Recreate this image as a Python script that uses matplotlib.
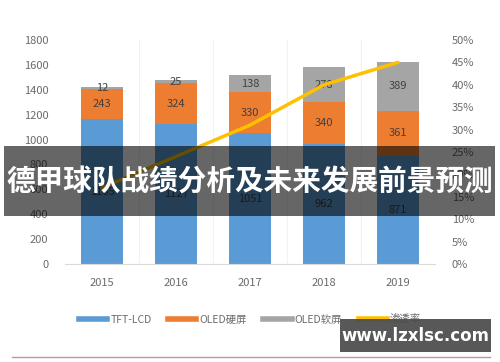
import matplotlib
matplotlib.use("Agg")
import matplotlib.pyplot as plt
from matplotlib.patches import Rectangle
from matplotlib.lines import Line2D

plt.rcParams['font.family'] = ['Noto Sans CJK SC', 'DejaVu Sans']

years = ['2015', '2016', '2017', '2018', '2019']
tft_lcd = [1165, 1127, 1051, 962, 871]
oled_hard = [243, 324, 330, 340, 361]
oled_soft = [12, 25, 138, 278, 389]
penetration = [17, 24, 31, 40, 45]  # percent

left_ticks = [0, 200, 400, 600, 800, 1000, 1200, 1400, 1600, 1800]
right_ticks = [0, 5, 10, 15, 20, 25, 30, 35, 40, 45, 50]

c_blue = '#5B9BD5'
c_orange = '#ED7D31'
c_gray = '#A5A5A5'
c_yellow = '#FFC000'
tick_col = '#6b6b6b'
lab_col = '#404040'

fig = plt.figure(figsize=(5, 3.62), dpi=100)
ax = fig.add_axes([0.13, 0.2707, 0.74, 0.6188])
x = list(range(len(years)))
w = 0.58

ax.bar(x, tft_lcd, w, color=c_blue, zorder=2)
b2 = [a for a in tft_lcd]
ax.bar(x, oled_hard, w, bottom=b2, color=c_orange, zorder=2)
b3 = [a + b for a, b in zip(tft_lcd, oled_hard)]
ax.bar(x, oled_soft, w, bottom=b3, color=c_gray, zorder=2)

for i in x:
    ax.text(i, tft_lcd[i] / 2, str(tft_lcd[i]), ha='center', va='center', fontsize=8, color=lab_col, zorder=3)
    ax.text(i, tft_lcd[i] + oled_hard[i] / 2, str(oled_hard[i]), ha='center', va='center', fontsize=8, color=lab_col, zorder=3)
    ax.text(i, b3[i] + oled_soft[i] / 2, str(oled_soft[i]), ha='center', va='center', fontsize=8, color=lab_col, zorder=3)

ax.set_xlim(-0.5, 4.5)
ax.set_ylim(0, 1800)
ax.set_yticks(left_ticks)
ax.set_yticklabels([str(t) for t in left_ticks], fontsize=8, color=tick_col)
ax.set_xticks(x)
ax.set_xticklabels(years, fontsize=8, color=tick_col)
ax.tick_params(axis='both', length=0)
ax.tick_params(axis='x', pad=10)
ax.tick_params(axis='y', pad=12)
for s in ['top', 'right', 'left']:
    ax.spines[s].set_visible(False)
ax.spines['bottom'].set_color('#d9d9d9')
for xv in [0.5, 1.5, 2.5, 3.5]:
    ax.axvline(xv, color='#f2f2f2', lw=0.8, zorder=0)

ax2 = ax.twinx()
ax2.plot(x, penetration, color=c_yellow, lw=2.5, zorder=4, solid_capstyle='round')
ax2.set_ylim(0, 50)
ax2.set_yticks(right_ticks)
ax2.set_yticklabels([f'{t}%' for t in right_ticks], fontsize=8, color=tick_col)
ax2.tick_params(axis='y', length=0, pad=12)
for s in ['top', 'right', 'left', 'bottom']:
    ax2.spines[s].set_visible(False)

handles = [Line2D([0], [0], color=c_blue, lw=4),
           Line2D([0], [0], color=c_orange, lw=4),
           Line2D([0], [0], color=c_gray, lw=4),
           Line2D([0], [0], color=c_yellow, lw=4)]
labels = ['TFT-LCD', 'OLED硬屏', 'OLED软屏', '渗透率']
fig.legend(handles, labels, loc='center', bbox_to_anchor=(0.5, 1 - 320 / 362), ncol=4,
           frameon=False, fontsize=7.5, labelcolor='#6b6b6b', handlelength=2.7,
           handletextpad=0.3, columnspacing=1.6)

# bottom pink rule
fig.add_artist(Line2D([12 / 500, 490 / 500], [1 - 357 / 362] * 2, color='#c98ea0', lw=1))

# banner overlay
fig.patches.append(Rectangle((4 / 500, 1 - 216 / 362), 491 / 500, 70 / 362,
                             transform=fig.transFigure, facecolor='black', alpha=0.6,
                             edgecolor='none', zorder=10))
fig.text(0.5, 1 - 181 / 362, '德甲球队战绩分析及未来发展前景预测', ha='center', va='center',
         fontsize=20.6, fontweight='bold', color='white', zorder=11)

# watermark box
fig.patches.append(Rectangle((340 / 500, 1 - 352 / 362), 151 / 500, 33 / 362,
                             transform=fig.transFigure, facecolor='#4a4a4a', alpha=0.92,
                             edgecolor='none', zorder=10))
fig.text(415 / 500, 1 - 336 / 362, 'www.lzxlsc.com', ha='center', va='center',
         fontsize=12, color='white', fontweight='bold', family='DejaVu Sans', zorder=11)

fig.savefig('out.png', dpi=100)
